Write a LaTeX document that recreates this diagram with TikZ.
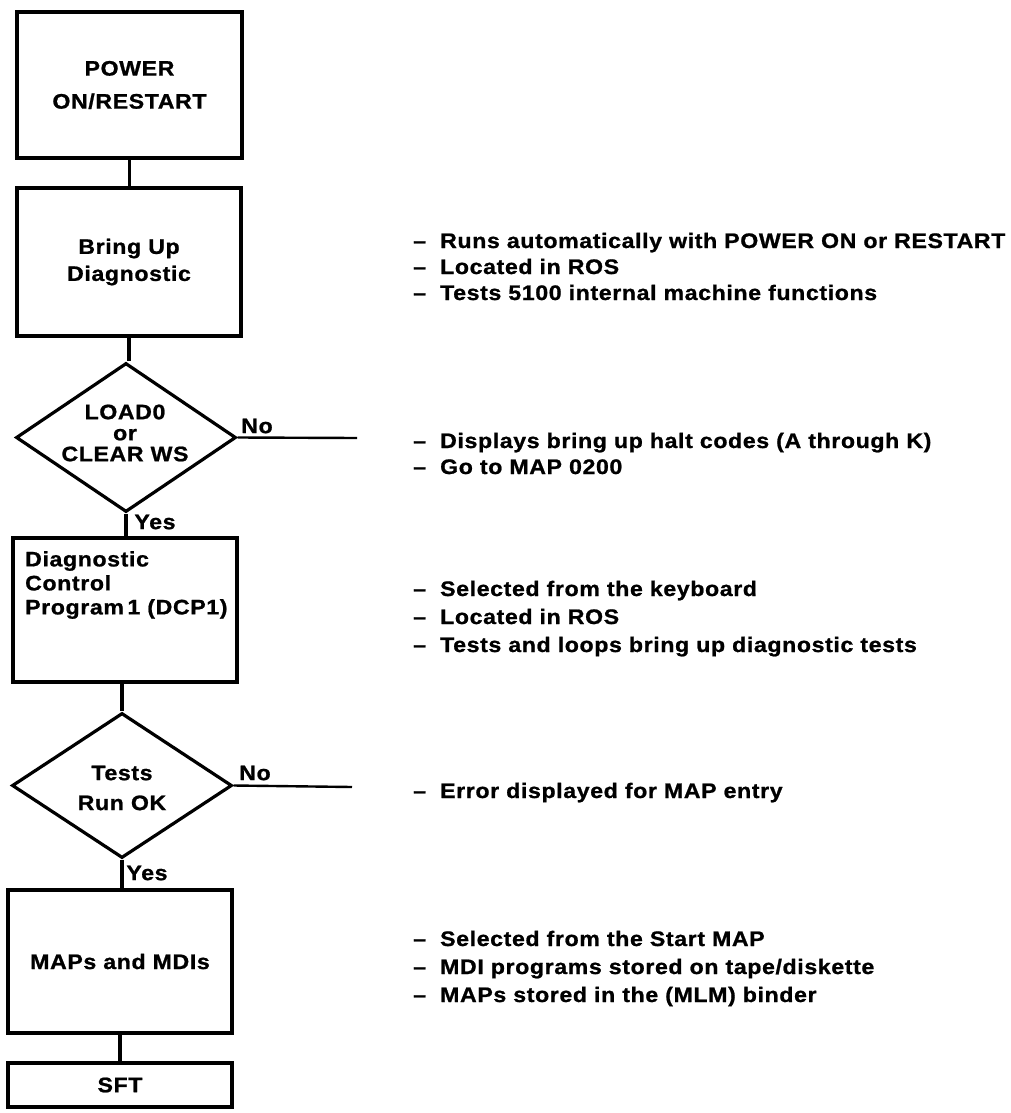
\documentclass[tikz,border=0pt]{standalone}
\usepackage{fontspec}
\setmainfont{Liberation Sans}[FakeStretch=1.1, LetterSpace=3, BoldFeatures={FakeBold=1}]
\usetikzlibrary{shapes.geometric}
\begin{document}
\begin{tikzpicture}[x=1pt, y=-1pt,
  every node/.style={font=\bfseries\fontsize{21}{27}\selectfont, inner sep=0pt},
  stepbox/.style={draw, rectangle, line width=3.2pt, align=center},
  decision/.style={draw, diamond, line width=3.2pt},
  link/.style={line width=3.2pt},
  exitline/.style={line width=2.4pt},
  note/.style={anchor=base west}]

\useasboundingbox[fill=white] (0,0) rectangle (1011,1113);

% --- main flow ---
\node[stepbox, minimum width=225pt, minimum height=146pt] (p1) at (129.5,85)
  {POWER\\[6pt]ON/RESTART};
\node[stepbox, minimum width=224pt, minimum height=148pt] (p2) at (129,262)
  {Bring Up\\Diagnostic};
\node[decision, minimum width=220pt, minimum height=149pt] (d1) at (126,437.5) {};
\node[align=center, font=\bfseries\fontsize{21}{21}\selectfont] (d1t) at (125,433)
  {LOAD0\\or\\CLEAR WS};
\node[stepbox, minimum width=224pt, minimum height=144pt] (p3) at (125,610) {};
\node[align=left, anchor=west, font=\bfseries\fontsize{21}{24}\selectfont] (p3t) at (25,585)
  {Diagnostic\\Control\\Program\,1 (DCP1)};
\node[decision, minimum width=220pt, minimum height=145pt] (d2) at (122,785.5) {};
\node[align=center, font=\bfseries\fontsize{21}{30}\selectfont] (d2t) at (122,788)
  {Tests\\Run OK};
\node[stepbox, minimum width=224pt, minimum height=143pt] (p4) at (120,961.5)
  {MAPs and MDIs};
\node[stepbox, minimum width=224pt, minimum height=44pt] (p5) at (120,1085)
  {SFT};

% --- branch labels ---
\node (no1) at (257,426) {No};
\node (yes1) at (155,522) {Yes};
\node (no2) at (255,773) {No};
\node (yes2) at (147,873) {Yes};

\coordinate (x1) at (357,438);
\coordinate (x2) at (352,787);

% --- connectors ---
\draw[link] (p1.south) -- (p1.south |- p2.north);
\draw[link] (p2.south) -- (p2.south |- d1.north);
\draw[link] (d1.south) -- (d1.south |- p3.north);
\draw[link] (d2.north |- p3.south) -- (d2.north);
\draw[link] (d2.south) -- (d2.south |- p4.north);
\draw[link] (p4.south) -- (p4.south |- p5.north);
\draw[exitline] (d1.east) -- (x1);
\draw[exitline] (d2.east) -- (x2);

% --- notes ---
\newcommand{\notedash}{\makebox[27pt][l]{\textendash}}
\node[note] (a1) at (413,248) {\notedash Runs automatically with POWER ON or RESTART};
\node[note] (a2) at (413,274) {\notedash Located in ROS};
\node[note] (a3) at (413,300) {\notedash Tests 5100 internal machine functions};

\node[note] (b1) at (413,448) {\notedash Displays bring up halt codes (A through K)};
\node[note] (b2) at (413,474) {\notedash Go to MAP 0200};

\node[note] (c1) at (413,596) {\notedash Selected from the keyboard};
\node[note] (c2) at (413,624) {\notedash Located in ROS};
\node[note] (c3) at (413,652) {\notedash Tests and loops bring up diagnostic tests};

\node[note] (e1) at (413,798) {\notedash Error displayed for MAP entry};

\node[note] (f1) at (413,946) {\notedash Selected from the Start MAP};
\node[note] (f2) at (413,974) {\notedash MDI programs stored on tape/diskette};
\node[note] (f3) at (413,1002) {\notedash MAPs stored in the (MLM) binder};
\end{tikzpicture}
\end{document}
